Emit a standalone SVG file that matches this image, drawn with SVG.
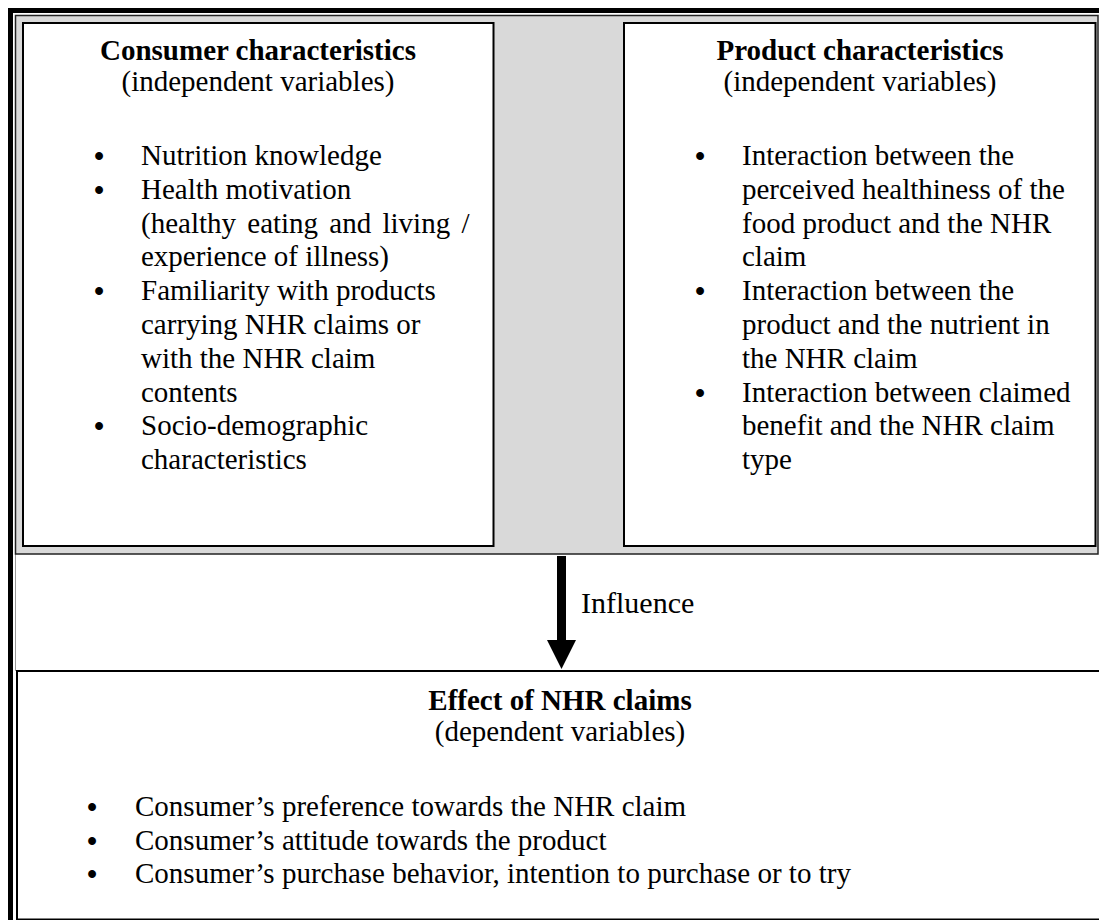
<svg xmlns="http://www.w3.org/2000/svg" width="1099" height="920" viewBox="0 0 1099 920">
<style>
text{font-family:"Liberation Serif","Times New Roman",serif;font-size:29px;fill:#000}
.h{font-weight:bold;text-anchor:middle}
.s{text-anchor:middle}
.b{text-anchor:middle;font-weight:bold}
.box{fill:#fff;stroke:#000;stroke-width:2}
</style>
<rect x="0" y="0" width="1099" height="920" fill="#fff"/>
<g id="frame">
<rect x="10.5" y="10.5" width="1100" height="920" fill="none" stroke="#000" stroke-width="5"/>
<line x1="15.5" y1="554" x2="15.5" y2="671" stroke="#999" stroke-width="1"/>
<rect x="15.5" y="15.5" width="1082.5" height="538.5" fill="#d9d9d9" stroke="#222" stroke-width="1.5"/>
</g>
<g id="consumer">
<rect class="box" x="23" y="23" width="470.5" height="523"/>
<text class="h" x="258" y="60">Consumer characteristics</text>
<text class="s" x="258" y="91">(independent variables)</text>
<text class="b" x="99" y="166">•</text>
<text x="141" y="165">Nutrition knowledge</text>
<text class="b" x="99" y="199.8">•</text>
<text x="141" y="198.8">Health motivation</text>
<text x="141" y="232.6" word-spacing="4">(healthy eating and living /</text>
<text x="141" y="266.4">experience of illness)</text>
<text class="b" x="99" y="301.2">•</text>
<text x="141" y="300.2">Familiarity with products</text>
<text x="141" y="334">carrying NHR claims or</text>
<text x="141" y="367.8">with the NHR claim</text>
<text x="141" y="401.6">contents</text>
<text class="b" x="99" y="436.4">•</text>
<text x="141" y="435.4">Socio-demographic</text>
<text x="141" y="469.2">characteristics</text>
</g>
<g id="product">
<rect class="box" x="624" y="23" width="471.5" height="523"/>
<text class="h" x="860" y="60">Product characteristics</text>
<text class="s" x="860" y="91">(independent variables)</text>
<text class="b" x="700" y="166">•</text>
<text x="742" y="165">Interaction between the</text>
<text x="742" y="198.8">perceived healthiness of the</text>
<text x="742" y="232.6">food product and the NHR</text>
<text x="742" y="266.4">claim</text>
<text class="b" x="700" y="301.2">•</text>
<text x="742" y="300.2">Interaction between the</text>
<text x="742" y="334">product and the nutrient in</text>
<text x="742" y="367.8">the NHR claim</text>
<text class="b" x="700" y="402.6">•</text>
<text x="742" y="401.6">Interaction between claimed</text>
<text x="742" y="435.4">benefit and the NHR claim</text>
<text x="742" y="469.2">type</text>
</g>
<g id="effect">
<rect class="box" x="17" y="671" width="1090" height="248.5"/>
<text class="h" x="560" y="710">Effect of NHR claims</text>
<text class="s" x="560" y="741">(dependent variables)</text>
<text class="b" x="92" y="817">•</text>
<text x="135" y="816">Consumer’s preference towards the NHR claim</text>
<text class="b" x="92" y="851">•</text>
<text x="135" y="850">Consumer’s attitude towards the product</text>
<text class="b" x="92" y="884">•</text>
<text x="135" y="883">Consumer’s purchase behavior, intention to purchase or to try</text>
</g>
<g id="connectors">
<rect x="557" y="556" width="9" height="86" fill="#000"/>
<polygon points="547,640 576,640 561.5,669" fill="#000"/>
<text x="581" y="613" style="font-size:30px">Influence</text>
</g>
</svg>
